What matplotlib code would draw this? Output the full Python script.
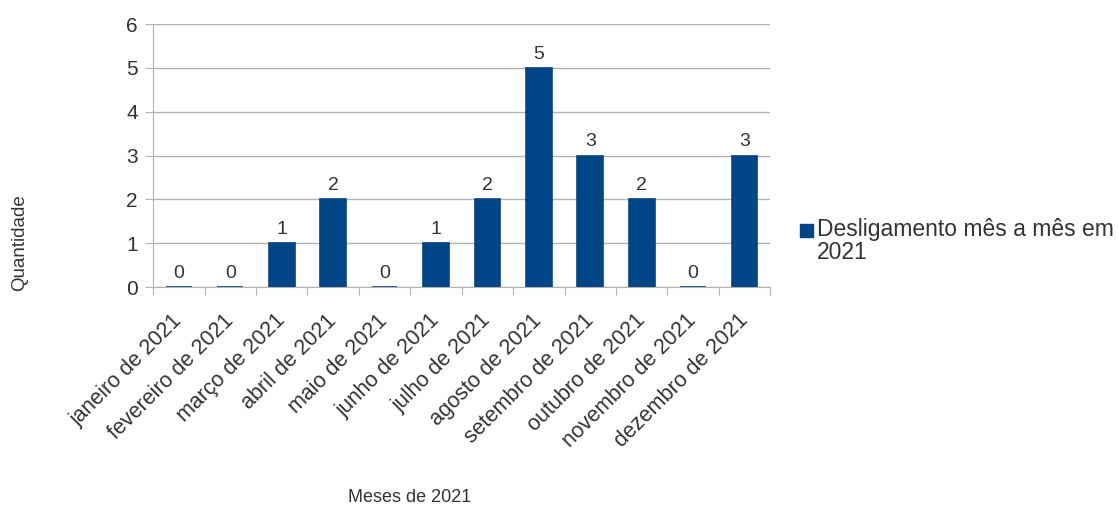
import matplotlib.pyplot as plt
from matplotlib.patches import Rectangle

plt.rcParams['font.family'] = ['Liberation Sans', 'DejaVu Sans']

meses = ["janeiro de 2021", "fevereiro de 2021", "março de 2021", "abril de 2021",
         "maio de 2021", "junho de 2021", "julho de 2021", "agosto de 2021",
         "setembro de 2021", "outubro de 2021", "novembro de 2021", "dezembro de 2021"]
desligamentos = [0, 0, 1, 2, 0, 1, 2, 5, 3, 2, 0, 3]
serie = "Desligamento mês a mês em\n2021"

cor = '#004586'
cinza = '#b3b3b3'

fig = plt.figure(figsize=(11.18, 5.13), dpi=100)
ax = fig.add_axes([0.137, 0.4405, 0.552, 0.5125])

x = list(range(len(meses)))
ax.bar(x, desligamentos, width=0.5, color=cor, edgecolor=cor, linewidth=1.2, zorder=3)

# rótulos de valor
for xi, v in zip(x, desligamentos):
    ax.text(xi, v + 0.12, str(v), ha='center', va='bottom', fontsize=14, color='#333333')

ax.set_xlim(-0.5, len(meses) - 0.5)
ax.set_ylim(0, 6)
ax.set_yticks(range(7))
ax.yaxis.grid(True, color=cinza, linewidth=1, zorder=0)

# ticks entre as categorias
ax.set_xticks([i - 0.5 for i in range(len(meses) + 1)])
ax.set_xticklabels([])
ax.set_xticks(x, minor=True)
ax.set_xticklabels(meses, minor=True, rotation=45, ha='right', va='center',
                   rotation_mode='anchor', fontsize=15.5, color='#333333')
ax.tick_params(axis='x', which='minor', length=0, pad=22)
ax.tick_params(axis='x', which='major', length=6, color=cinza, direction='out')
ax.tick_params(axis='y', length=6, color=cinza, labelsize=15, labelcolor='#333333', pad=5)

for s in ['top', 'right']:
    ax.spines[s].set_visible(False)
for s in ['left', 'bottom']:
    ax.spines[s].set_color(cinza)

fig.text(0.018, 0.527, "Quantidade", rotation=90, ha='center', va='center',
         fontsize=13.5, color='#333333')
fig.text(0.366, 0.031, "Meses de 2021", ha='center', va='center',
         fontsize=13, color='#333333')

# legenda
fig.patches.append(Rectangle((0.716, 0.538), 0.0115, 0.025, transform=fig.transFigure,
                             facecolor=cor, edgecolor=cor))
fig.text(0.731, 0.576, serie, ha='left', va='top', fontsize=16.5, color='#333333',
         linespacing=1.0)

plt.savefig('out.png', dpi=100)
